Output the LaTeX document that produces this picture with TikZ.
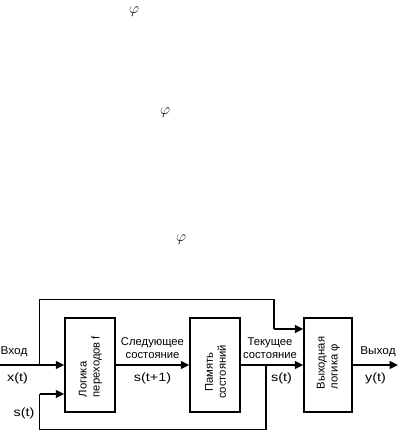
\documentclass[tikz,border=0pt]{standalone}
\usepackage{fontspec}
\setmainfont{Liberation Sans}
\usetikzlibrary{arrows.meta}
\begin{document}
\begin{tikzpicture}[x=1bp,y=-1bp,
  every node/.style={font=\fontsize{11.3}{13}\selectfont, inner sep=0pt},
  blk/.style={draw, line width=1.4bp, minimum width=50bp, minimum height=94bp},
  wire/.style={line width=1.4bp},
  arr/.style={wire, -{Triangle[length=8.5bp,width=8bp]}},
  lbl/.style={align=center},
  sig/.style={font=\fontsize{12}{14}\selectfont, xscale=1.2},
  strayphi/.style={text=black!90}
]
\useasboundingbox (0,0) rectangle (398,432);
% stray symbols
\node[strayphi] (phi1) at (134,12) {\scalebox{1.4}{$\varphi$}};
\node[strayphi] (phi2) at (165,113) {\scalebox{1.4}{$\varphi$}};
\node[strayphi] (phi3) at (181,240) {\scalebox{1.4}{$\varphi$}};
% blocks
\node[blk] (f) at (90,365) {};
\node[rotate=90, align=left] (ft) at (90.5,366.5) {Логика\\переходов f};
\node[blk] (mem) at (215,365) {};
\node[rotate=90, align=center] (memt) at (215.5,372) {Память\\состояний};
\node[blk, minimum width=48bp] (out) at (328,365) {};
\node[rotate=90, align=left] (outt) at (328.5,363) {Выходная\\логика φ};
% coordinates
\coordinate (in) at (0,365);
\coordinate (j1) at (39.5,365);
\coordinate (t1) at (39.5,299.5);
\coordinate (t2) at (274,299.5);
\coordinate (t3) at (274,329);
\coordinate (j2) at (266,365);
\coordinate (b1) at (266,429.5);
\coordinate (b2) at (39.5,429.5);
\coordinate (b3) at (39.5,394);
\coordinate (yend) at (398,365);
% wires
\draw[arr] (in) -- (f.west);
\draw[wire] (j1) -- (t1) -- (t2) -- (t3);
\draw[arr] (t3) -- (t3 -| out.west);
\draw[arr] (f.east) -- (mem.west);
\draw[arr] (mem.east) -- (out.west);
\draw[wire] (j2) -- (b1) -- (b2) -- (b3);
\draw[arr] (b3) -- (b3 -| f.west);
\draw[arr] (out.east) -- (yend);
% labels
\node[anchor=west, xscale=1.05] (vx) at (0.5,352) {Вход};
\node[sig] (xt) at (17.5,378) {x(t)};
\node[sig] (st1) at (24,413) {s(t)};
\node[lbl] (next) at (152.5,348.5) {Следующее\\состояние};
\node[sig] (stp) at (152.5,378) {s(t+1)};
\node[lbl] (cur) at (270,348.5) {Текущее\\состояние};
\node[sig] (st2) at (281.5,378) {s(t)};
\node[xscale=1.05] (vyx) at (378,352) {Выход};
\node[sig] (yt) at (375.5,378) {y(t)};
\end{tikzpicture}
\end{document}
